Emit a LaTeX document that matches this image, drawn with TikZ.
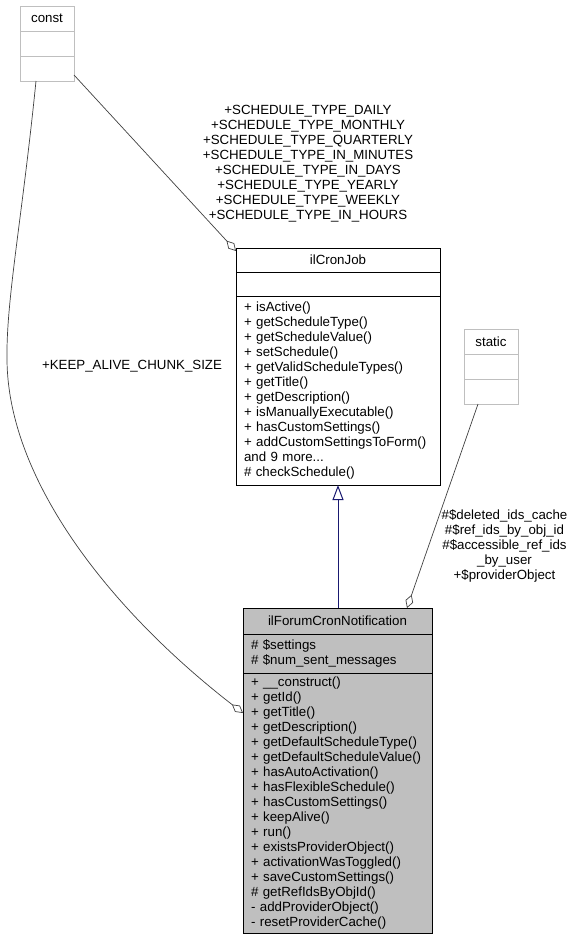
\documentclass[tikz,border=0pt]{standalone}
\usepackage{fontspec}
\setmainfont{Liberation Sans}
\usepackage{xcolor}
\usetikzlibrary{arrows.meta, positioning, calc}

\definecolor{boxgrey}{HTML}{BFBFBF}
\definecolor{edgegrey}{HTML}{404040}
\definecolor{inhblue}{HTML}{191970}

\begin{document}
\begin{tikzpicture}[x=1pt, y=-1pt, node distance=0pt,
  every node/.style={font=\fontsize{13.3}{15}\selectfont, inner sep=0pt, outer sep=0pt},
  cls/.style={draw=black, line width=0.9pt, text width=#1, align=left, inner xsep=8pt, inner ysep=3pt},
  ext/.style={draw=boxgrey, line width=0.9pt, minimum width=54pt, minimum height=25pt},
  lbl/.style={align=center},
  agg/.style={draw=edgegrey, line width=0.7pt, -{Diamond[open, length=14pt, width=8pt]}},
  inherit/.style={draw=inhblue, line width=1pt, -{Triangle[open, length=15pt, width=11pt]}}]
  \useasboundingbox (0,0) rectangle (571,940);

  % const and static
  \node[ext, anchor=north west] (constt) at (20,6) {const};
  \node[ext, below=of constt] (consta) {};
  \node[ext, below=of consta] (constm) {};

  \node[ext, anchor=north west] (statict) at (464,329) {static};
  \node[ext, below=of statict] (statica) {};
  \node[ext, below=of statica] (staticm) {};

  % ilCronJob
  \node[cls=188pt, align=center, minimum height=24pt, anchor=north west] (cjtitle) at (236,248) {ilCronJob};
  \node[cls=188pt, minimum height=24pt, below=of cjtitle] (cjattr) {};
  \node[cls=188pt, minimum height=189pt, below=of cjattr] (cjmeth) {+ isActive()\\
    + getScheduleType()\\
    + getScheduleValue()\\
    + setSchedule()\\
    + getValidScheduleTypes()\\
    + getTitle()\\
    + getDescription()\\
    + isManuallyExecutable()\\
    + hasCustomSettings()\\
    + addCustomSettingsToForm()\\
    and 9 more...\\
    \# checkSchedule()};

  % ilForumCronNotification
  \node[cls=173pt, fill=boxgrey, align=center, minimum height=26pt, anchor=north west] (fcntitle) at (243,608) {ilForumCronNotification};
  \node[cls=173pt, fill=boxgrey, minimum height=39pt, below=of fcntitle] (fcnattr) {\# \$settings\\
    \# \$num\_sent\_messages};
  \node[cls=173pt, fill=boxgrey, minimum height=260pt, below=of fcnattr] (fcnmeth) {+ \_\_construct()\\
    + getId()\\
    + getTitle()\\
    + getDescription()\\
    + getDefaultScheduleType()\\
    + getDefaultScheduleValue()\\
    + hasAutoActivation()\\
    + hasFlexibleSchedule()\\
    + hasCustomSettings()\\
    + keepAlive()\\
    + run()\\
    + existsProviderObject()\\
    + activationWasToggled()\\
    + saveCustomSettings()\\
    \# getRefIdsByObjId()\\
    - addProviderObject()\\
    - resetProviderCache()};

  % edges
  \draw[inherit] ($(fcntitle.north)+(0.5,0)$) -- ($(fcntitle.north |- cjmeth.south)+(0.5,0)$);
  \draw[agg] ($(constm.south east)+(0,-6)$) -- ($(cjtitle.north west)+(0,3)$);
  \draw[agg] ($(constm.south)+(-11,0)$) .. controls (22,220) and (6,300) .. (7,360)
    .. controls (8,480) and (110,610) .. ($(fcnmeth.north west)+(0,40)$);
  \draw[agg] ($(staticm.south)+(-13,0)$) -- node[lbl, pos=0.695, anchor=west, xshift=13pt] (provlbl)
    {\#\$deleted\_ids\_cache\\ \#\$ref\_ids\_by\_obj\_id\\ \#\$accessible\_ref\_ids\\ \_by\_user\\ +\$providerObject}
    ($(fcntitle.north)+(69.5,0)$);

  \node[lbl] (schedlbl) at (308,163.5) {+SCHEDULE\_TYPE\_DAILY\\ +SCHEDULE\_TYPE\_MONTHLY\\
    +SCHEDULE\_TYPE\_QUARTERLY\\ +SCHEDULE\_TYPE\_IN\_MINUTES\\ +SCHEDULE\_TYPE\_IN\_DAYS\\
    +SCHEDULE\_TYPE\_YEARLY\\ +SCHEDULE\_TYPE\_WEEKLY\\ +SCHEDULE\_TYPE\_IN\_HOURS};
  \node[lbl] (keeplbl) at (132,366) {+KEEP\_ALIVE\_CHUNK\_SIZE};
\end{tikzpicture}
\end{document}
